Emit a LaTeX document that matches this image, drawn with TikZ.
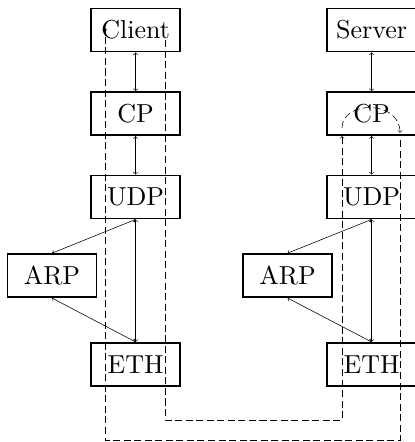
\documentclass[tikz,border=0pt]{standalone}
\usepackage{amsmath,amssymb}
\usepackage{fontspec}
\setmainfont{lmroman10-regular.otf}
\usepackage{tikz}
\usetikzlibrary{shapes}

\begin{document}
\begin{tikzpicture}[layer/.style={draw,line width=1.2pt,minimum width=2.225cm,minimum height=1.08cm,inner sep=1pt,font=\fontsize{18.5}{22}\selectfont},
  msg/.style={dash pattern=on 5pt off 2.5pt}]
\useasboundingbox (0,0) rectangle (10.375,11.05);
% client side
\node[layer] (client) at (3.39,10.3) {Client};
\node[layer] (cpL) at (3.39,8.21) {CP};
\node[layer] (udpL) at (3.39,6.125) {UDP};
\node[layer] (arpL) at (1.3,4.16) {ARP};
\node[layer] (ethL) at (3.39,1.94) {ETH};
% server side
\node[layer] (server) at (9.29,10.3) {Server};
\node[layer] (cpR) at (9.29,8.21) {CP};
\node[layer] (udpR) at (9.29,6.125) {UDP};
\node[layer] (arpR) at (7.19,4.16) {ARP};
\node[layer] (ethR) at (9.29,1.94) {ETH};
\draw[<->] (client) -- (cpL);
\draw[<->] (cpL) -- (udpL);
\draw[<->] (udpL) -- (ethL);
\draw[<->] (udpL.south) -- (arpL.north);
\draw[<->] (arpL.south) -- (ethL.north);
\draw[<->] (server) -- (cpR);
\draw[<->] (cpR) -- (udpR);
\draw[<->] (udpR) -- (ethR);
\draw[<->] (udpR.south) -- (arpR.north);
\draw[<->] (arpR.south) -- (ethR.north);
% request and reply
\coordinate (reqA) at (4.125,10.05);
\coordinate (reqB) at (8.55,7.65);
\coordinate (upA) at (8.55,7.85);
\coordinate (upB) at (10,7.73);
\coordinate (repA) at (10,7.55);
\coordinate (repB) at (2.625,10.35);
\draw[msg,->] (reqA) -- (4.125,0.55) -- (8.55,0.55) -- (reqB);
\draw[msg,->] (upA) .. controls (8.55,8.55) and (10,8.55) .. (upB);
\draw[msg,->] (repA) -- (10,0.05) -- (2.625,0.05) -- (repB);
\end{tikzpicture}
\end{document}
